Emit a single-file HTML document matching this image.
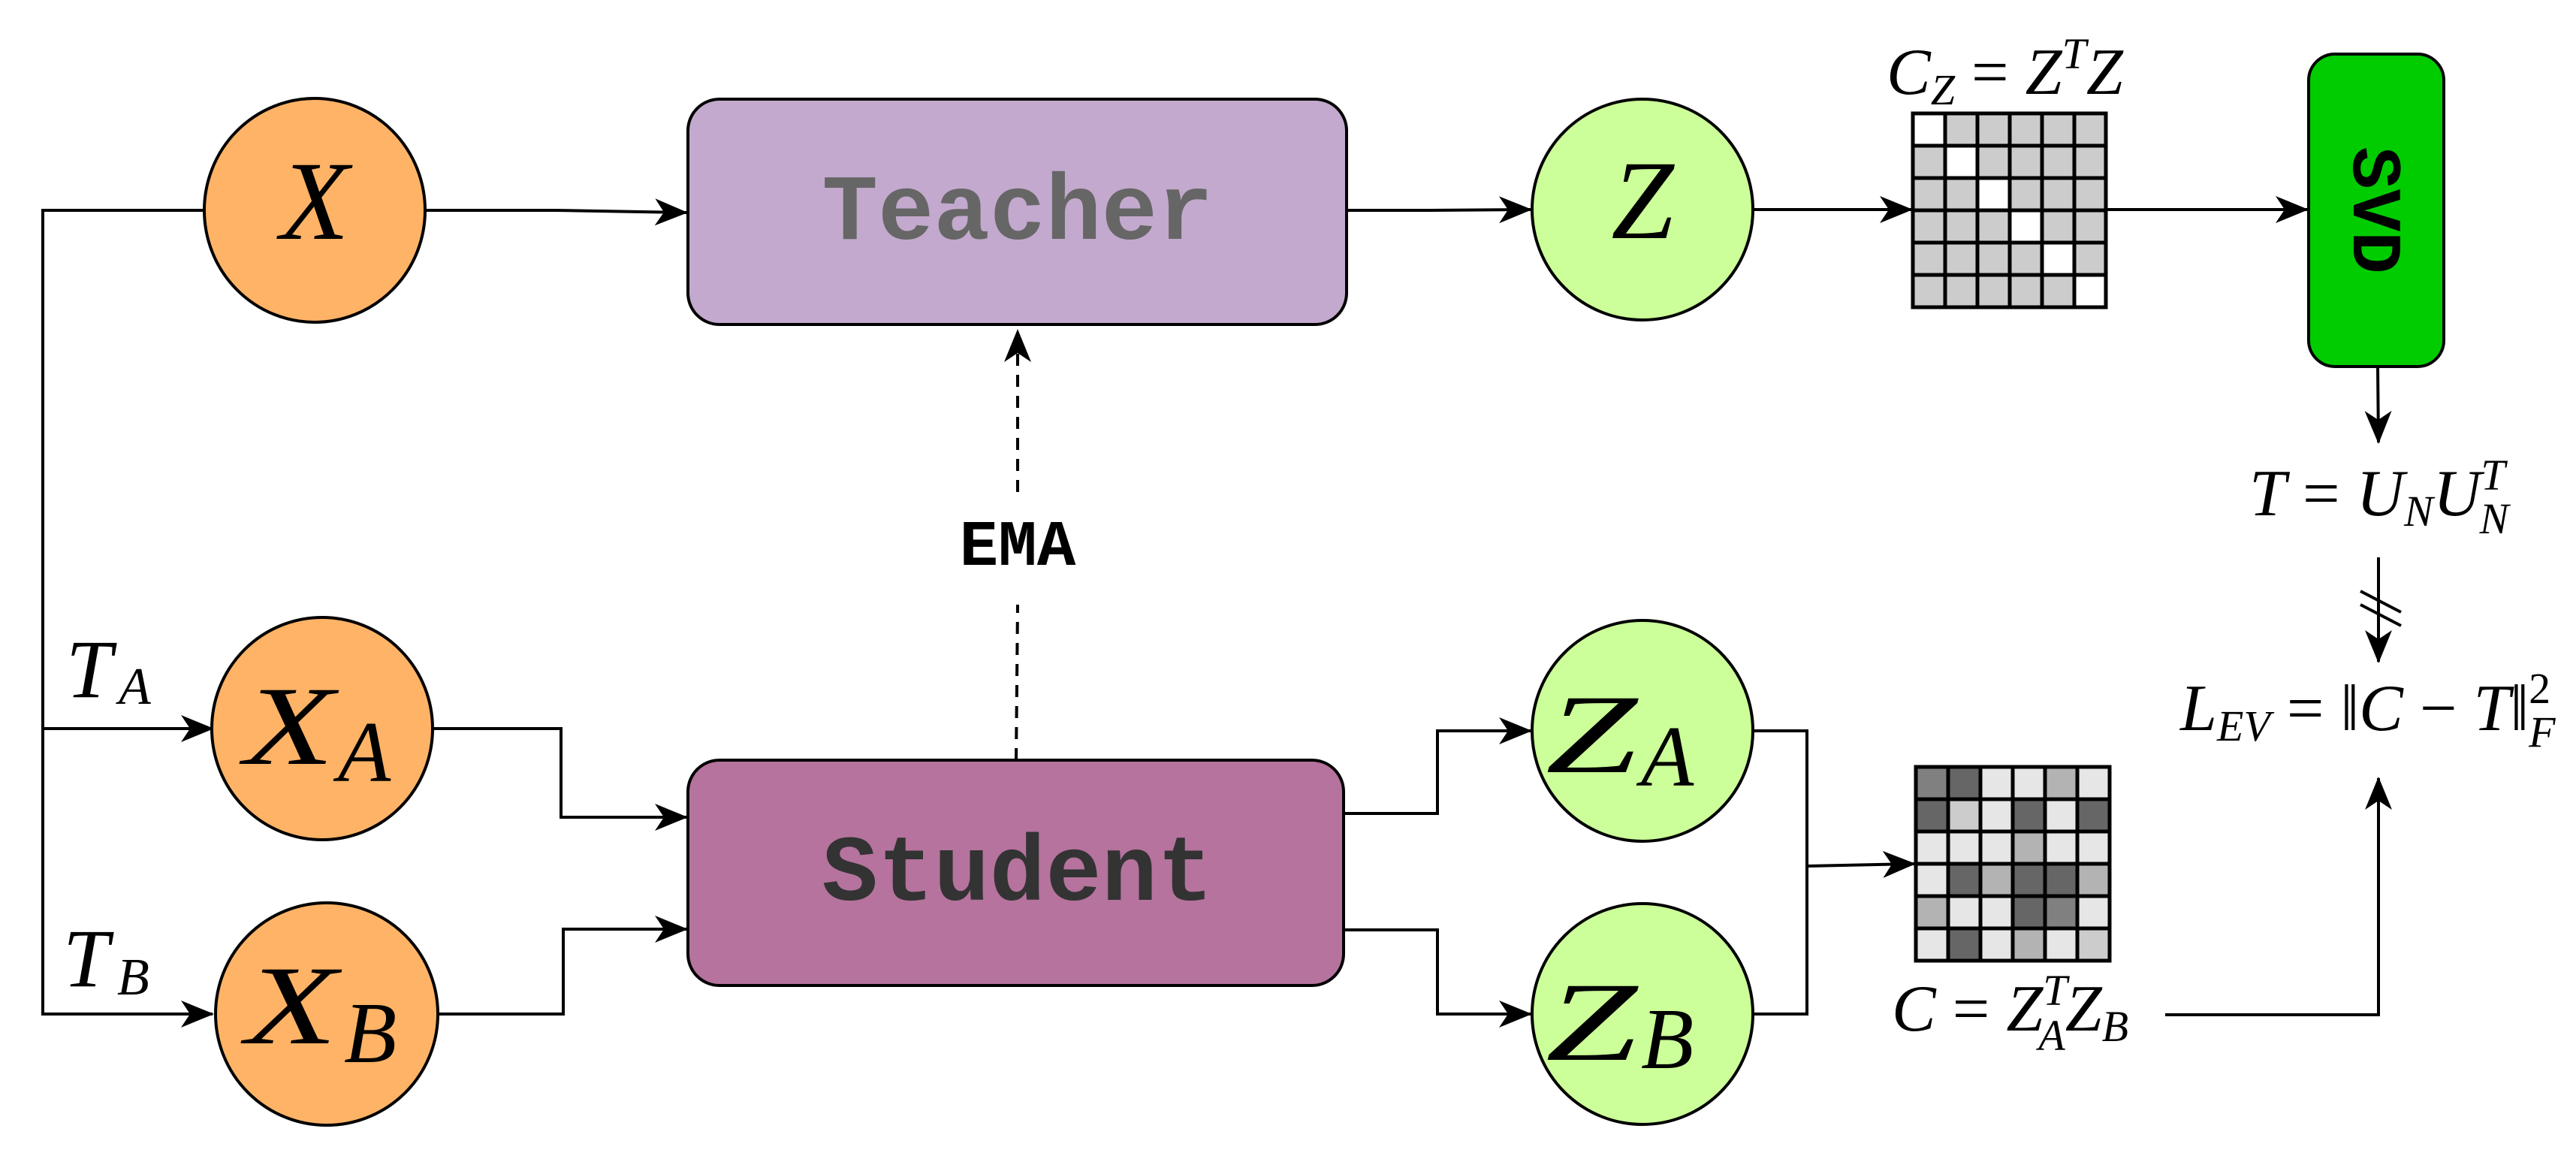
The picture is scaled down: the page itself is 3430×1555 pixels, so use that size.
<!DOCTYPE html>
<html><head><meta charset="utf-8"><style>
html,body{margin:0;padding:0;background:#fff;}
svg{display:block;}
.m{font-family:"Liberation Serif",serif;font-style:italic;fill:#000;}
.r{font-family:"Liberation Serif",serif;font-style:normal;fill:#000;}
.c{font-family:"Liberation Mono","Courier New",monospace;font-weight:bold;}
</style></head><body>
<svg width="3430" height="1555" viewBox="0 0 3430 1555" xmlns="http://www.w3.org/2000/svg">
<defs>
<marker id="ah" markerUnits="userSpaceOnUse" markerWidth="44" markerHeight="36" refX="42" refY="18" orient="auto">
<path d="M0,0 L44,18 L0,36 L12,18 z" fill="#000"/>
</marker>
</defs>
<g fill="none" stroke="#000" stroke-width="4">
<path d="M272,280 H57 V1350 H283" marker-end="url(#ah)"/>
<path d="M57,970 H283" marker-end="url(#ah)"/>
<path d="M566,280 H740 L914,283" marker-end="url(#ah)"/>
<path d="M577,970 H747 V1088 H914" marker-end="url(#ah)"/>
<path d="M583,1350 H750 V1237 H914" marker-end="url(#ah)"/>
<path d="M1794,280 H1900 L2038,279" marker-end="url(#ah)"/>
<path d="M1790,1083 H1914 V973 H2038" marker-end="url(#ah)"/>
<path d="M1790,1238 H1914 V1350 H2038" marker-end="url(#ah)"/>
<path d="M2334,973 H2406 V1350 H2334"/>
<path d="M2406,1153 L2549,1150" marker-end="url(#ah)"/>
<path d="M2334,279 H2545" marker-end="url(#ah)"/>
<path d="M2804,279 H3072" marker-end="url(#ah)"/>
<path d="M3166,488 L3167,589" marker-end="url(#ah)"/>
<path d="M3167,742 V881" marker-end="url(#ah)"/>
<path d="M3143,787 L3197,815 M3143,805 L3197,833"/>
<path d="M2883,1351 H3167 V1036" marker-end="url(#ah)"/>
<path d="M1353,1012 L1355,805" stroke-dasharray="16,12"/>
<path d="M1355,655 V440" stroke-dasharray="16,12" marker-end="url(#ah)"/>
</g>
<rect x="916" y="132" width="877" height="300" rx="42" fill="#c3a9cd" stroke="#000" stroke-width="4"/>
<rect x="916" y="1012" width="873" height="300" rx="42" fill="#b5739d" stroke="#000" stroke-width="4"/>
<text x="1355" y="318" text-anchor="middle" class="c" font-size="124" fill="#666">Teacher</text>
<text x="1355" y="1198" text-anchor="middle" class="c" font-size="124" fill="#333">Student</text>
<text x="1355" y="752" text-anchor="middle" class="c" font-size="86" fill="#000">EMA</text>
<rect x="3074" y="72" width="180" height="416" rx="35" fill="#00cc00" stroke="#000" stroke-width="4"/>
<text transform="translate(3166,280) rotate(90)" text-anchor="middle" y="32" class="c" font-size="94" fill="#000">SVD</text>
<g stroke="#000" stroke-width="4">
<ellipse cx="419" cy="280" rx="147" ry="149" fill="#ffb366"/>
<ellipse cx="429" cy="970" rx="147" ry="148" fill="#ffb366"/>
<ellipse cx="435" cy="1350" rx="148" ry="148" fill="#ffb366"/>
<circle cx="2187" cy="279" r="147" fill="#ccff99"/>
<circle cx="2187" cy="973" r="147" fill="#ccff99"/>
<circle cx="2187" cy="1350" r="147" fill="#ccff99"/>
</g>
<text x="419" y="318" text-anchor="middle" class="m" font-size="150">X</text>
<text x="325" y="1017" class="m" font-size="150" textLength="120" lengthAdjust="spacingAndGlyphs">X</text><text x="450" y="1040" class="m" font-size="115">A</text>
<text x="327" y="1389" class="m" font-size="150" textLength="122" lengthAdjust="spacingAndGlyphs">X</text><text x="458" y="1414" class="m" font-size="115">B</text>
<text x="2187" y="317" text-anchor="middle" class="m" font-size="150">Z</text>
<text x="2058" y="1028" class="m" font-size="150" textLength="122" lengthAdjust="spacingAndGlyphs">Z</text><text x="2185" y="1046" class="m" font-size="115">A</text>
<text x="2058" y="1411" class="m" font-size="150" textLength="122" lengthAdjust="spacingAndGlyphs">Z</text><text x="2185" y="1422" class="m" font-size="115">B</text>
<text x="88" y="928" class="m" font-size="110">T</text><text x="158" y="937" class="m" font-size="70">A</text>
<text x="84" y="1313" class="m" font-size="110">T</text><text x="156" y="1324" class="m" font-size="70">B</text>
<g stroke="#000" stroke-width="5">
<rect x="2547" y="151" width="257" height="258" fill="#ccc"/>
<rect x="2547" y="151" width="43" height="43" fill="#fff"/>
<rect x="2590" y="194" width="43" height="43" fill="#fff"/>
<rect x="2633" y="237" width="43" height="43" fill="#fff"/>
<rect x="2676" y="280" width="43" height="43" fill="#fff"/>
<rect x="2719" y="323" width="43" height="43" fill="#fff"/>
<rect x="2762" y="366" width="42" height="43" fill="#fff"/>
<path d="M2590,151V409M2633,151V409M2676,151V409M2719,151V409M2762,151V409M2547,194H2804M2547,237H2804M2547,280H2804M2547,323H2804M2547,366H2804" fill="none"/>
</g>
<g stroke="#000" stroke-width="5">
<rect x="2551" y="1021" width="43" height="43" fill="#808080"/><rect x="2594" y="1021" width="43" height="43" fill="#666"/><rect x="2637" y="1021" width="43" height="43" fill="#e6e6e6"/><rect x="2680" y="1021" width="43" height="43" fill="#e6e6e6"/><rect x="2723" y="1021" width="43" height="43" fill="#b3b3b3"/><rect x="2766" y="1021" width="43" height="43" fill="#e6e6e6"/>
<rect x="2551" y="1064" width="43" height="43" fill="#666"/><rect x="2594" y="1064" width="43" height="43" fill="#ccc"/><rect x="2637" y="1064" width="43" height="43" fill="#e6e6e6"/><rect x="2680" y="1064" width="43" height="43" fill="#666"/><rect x="2723" y="1064" width="43" height="43" fill="#e6e6e6"/><rect x="2766" y="1064" width="43" height="43" fill="#666"/>
<rect x="2551" y="1107" width="43" height="43" fill="#e6e6e6"/><rect x="2594" y="1107" width="43" height="43" fill="#e6e6e6"/><rect x="2637" y="1107" width="43" height="43" fill="#e6e6e6"/><rect x="2680" y="1107" width="43" height="43" fill="#b3b3b3"/><rect x="2723" y="1107" width="43" height="43" fill="#e6e6e6"/><rect x="2766" y="1107" width="43" height="43" fill="#e6e6e6"/>
<rect x="2551" y="1150" width="43" height="43" fill="#e6e6e6"/><rect x="2594" y="1150" width="43" height="43" fill="#666"/><rect x="2637" y="1150" width="43" height="43" fill="#b3b3b3"/><rect x="2680" y="1150" width="43" height="43" fill="#666"/><rect x="2723" y="1150" width="43" height="43" fill="#666"/><rect x="2766" y="1150" width="43" height="43" fill="#b3b3b3"/>
<rect x="2551" y="1193" width="43" height="43" fill="#b3b3b3"/><rect x="2594" y="1193" width="43" height="43" fill="#e6e6e6"/><rect x="2637" y="1193" width="43" height="43" fill="#e6e6e6"/><rect x="2680" y="1193" width="43" height="43" fill="#666"/><rect x="2723" y="1193" width="43" height="43" fill="#808080"/><rect x="2766" y="1193" width="43" height="43" fill="#e6e6e6"/>
<rect x="2551" y="1236" width="43" height="43" fill="#e6e6e6"/><rect x="2594" y="1236" width="43" height="43" fill="#666"/><rect x="2637" y="1236" width="43" height="43" fill="#e6e6e6"/><rect x="2680" y="1236" width="43" height="43" fill="#b3b3b3"/><rect x="2723" y="1236" width="43" height="43" fill="#e6e6e6"/><rect x="2766" y="1236" width="43" height="43" fill="#ccc"/>
</g>
<text x="2512" y="125" class="m" font-size="88">C<tspan font-size="58" dy="14">Z</tspan><tspan class="r" dy="-14"> = </tspan>Z<tspan font-size="58" dy="-34">T</tspan><tspan dy="34">Z</tspan></text>
<text x="2519" y="1372" class="m" font-size="88">C<tspan class="r"> = </tspan>Z<tspan font-size="58" dy="-34">T</tspan><tspan font-size="58" dx="-34" dy="60">A</tspan><tspan dy="-26">Z</tspan><tspan font-size="58" dy="14">B</tspan></text>
<text x="2995" y="686" class="m" font-size="88">T<tspan class="r"> = </tspan>U<tspan font-size="58" dy="14">N</tspan><tspan dy="-14">U</tspan><tspan font-size="58" dy="-34">T</tspan><tspan font-size="58" dx="-34" dy="58">N</tspan></text>
<text x="2903" y="972" class="m" font-size="88">L<tspan font-size="58" dy="14">EV</tspan><tspan class="r" dy="-14"> = ‖</tspan>C<tspan class="r"> − </tspan>T<tspan class="r">‖</tspan><tspan class="r" font-size="58" dy="-36">2</tspan><tspan font-size="58" dx="-29" dy="58">F</tspan></text>
</svg>
</body></html>
